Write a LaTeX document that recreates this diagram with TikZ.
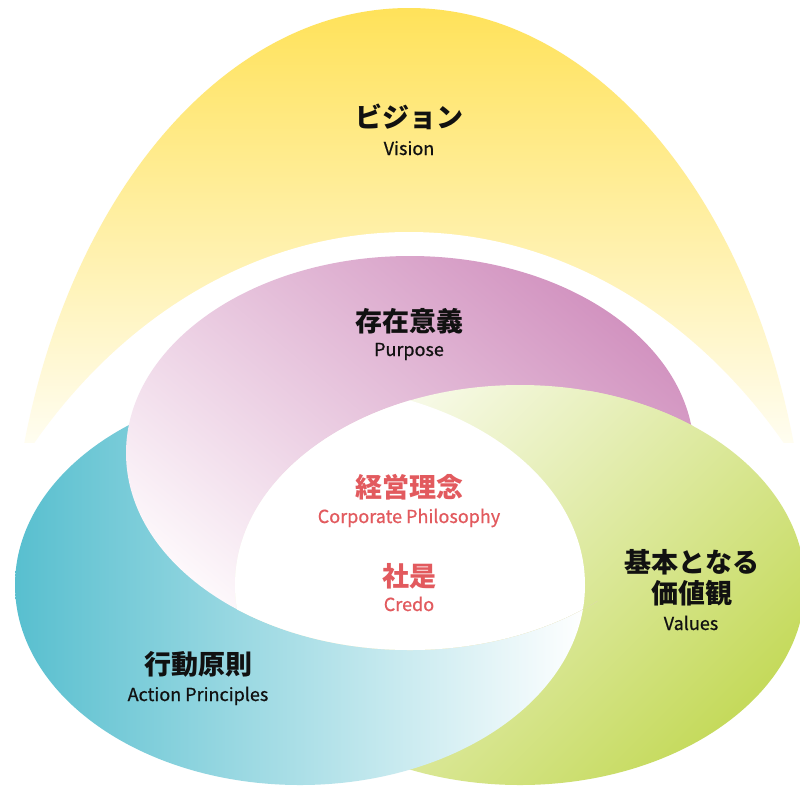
\documentclass[tikz,border=0pt]{standalone}
\usepackage{fontspec}
\setmainfont{Noto Sans CJK JP}
\newfontfamily\enfont[FakeBold=0.7]{Noto Sans CJK JP}
\definecolor{ytop}{HTML}{FFE25A}
\definecolor{ybot}{HTML}{FFFDF0}
\definecolor{pdark}{HTML}{D293C0}
\definecolor{plight}{HTML}{FDF8FB}
\definecolor{bdark}{HTML}{58BFCF}
\definecolor{blight}{HTML}{FFFFFF}
\definecolor{gdark}{HTML}{C5DA5C}
\definecolor{glight}{HTML}{FBFCF2}
\definecolor{credred}{HTML}{E25A5E}
\definecolor{ink}{HTML}{111111}
\begin{document}
\begin{tikzpicture}[x=1pt,y=-1pt,
  jptitle/.style={font=\fontsize{27}{31}\selectfont\bfseries, text=ink, inner sep=0pt, align=center},
  entitle/.style={font=\enfont\fontsize{18}{20}\selectfont, text=ink, inner sep=0pt, anchor=base},
  redjp/.style={jptitle, text=credred},
  reden/.style={entitle, text=credred},
  gsh/.style={top color=glight, bottom color=gdark, shading angle=45},
  bsh/.style={left color=bdark, right color=blight},
  psh/.style={top color=pdark, bottom color=plight, shading angle=-40}]
\path[use as bounding box] (0,0) rectangle (800,785);
\fill[white] (0,0) rectangle (800,785);
\begin{scope}
  \clip (0,0) rectangle (800,442);
  \clip (409,608) ellipse [x radius=400, y radius=600];
  \shade[top color=ytop, bottom color=ybot] (0,8) rectangle (800,442);
\end{scope}
\begin{scope}
  \clip (0,0) rectangle (800,785);
  \fill[white] (409,832) ellipse [x radius=492, y radius=600];
  \shade[gsh] (520,585) ellipse [x radius=285, y radius=200];
  \shade[bsh] (300,585) ellipse [x radius=285, y radius=200];
  \shade[psh] (410,453) ellipse [x radius=284, y radius=197];
  \begin{scope}
    \clip (410,453) ellipse [x radius=284, y radius=197];
    \shade[gsh] (520,585) ellipse [x radius=285, y radius=200];
    \clip (520,585) ellipse [x radius=285, y radius=200];
    \fill[white] (300,585) ellipse [x radius=285, y radius=200];
  \end{scope}
  \begin{scope}
    \clip (589,380) rectangle (800,600);
    \clip (410,453) ellipse [x radius=285.5, y radius=198.5];
    \clip (520,585) ellipse [x radius=285, y radius=200];
    \shade[gsh] (520,585) ellipse [x radius=285, y radius=200];
  \end{scope}
\end{scope}
\node[jptitle] (visjp) at (409,117) {ビジョン};
\node[entitle] (visen) at (409,155) {Vision};
\node[jptitle] (purjp) at (409,321) {存在意義};
\node[entitle] (puren) at (409,356) {Purpose};
\node[redjp] (phijp) at (409,487) {経営理念};
\node[reden] (phien) at (409,523) {Corporate Philosophy};
\node[redjp] (crejp) at (409,576) {社是};
\node[reden] (creen) at (409,611) {Credo};
\node[jptitle] (actjp) at (198,664) {行動原則};
\node[entitle] (acten) at (198,701) {Action Principles};
\node[jptitle] (valjp) at (692,578) {基本となる\\価値観};
\node[entitle] (valen) at (691,630) {Values};
\end{tikzpicture}
\end{document}
